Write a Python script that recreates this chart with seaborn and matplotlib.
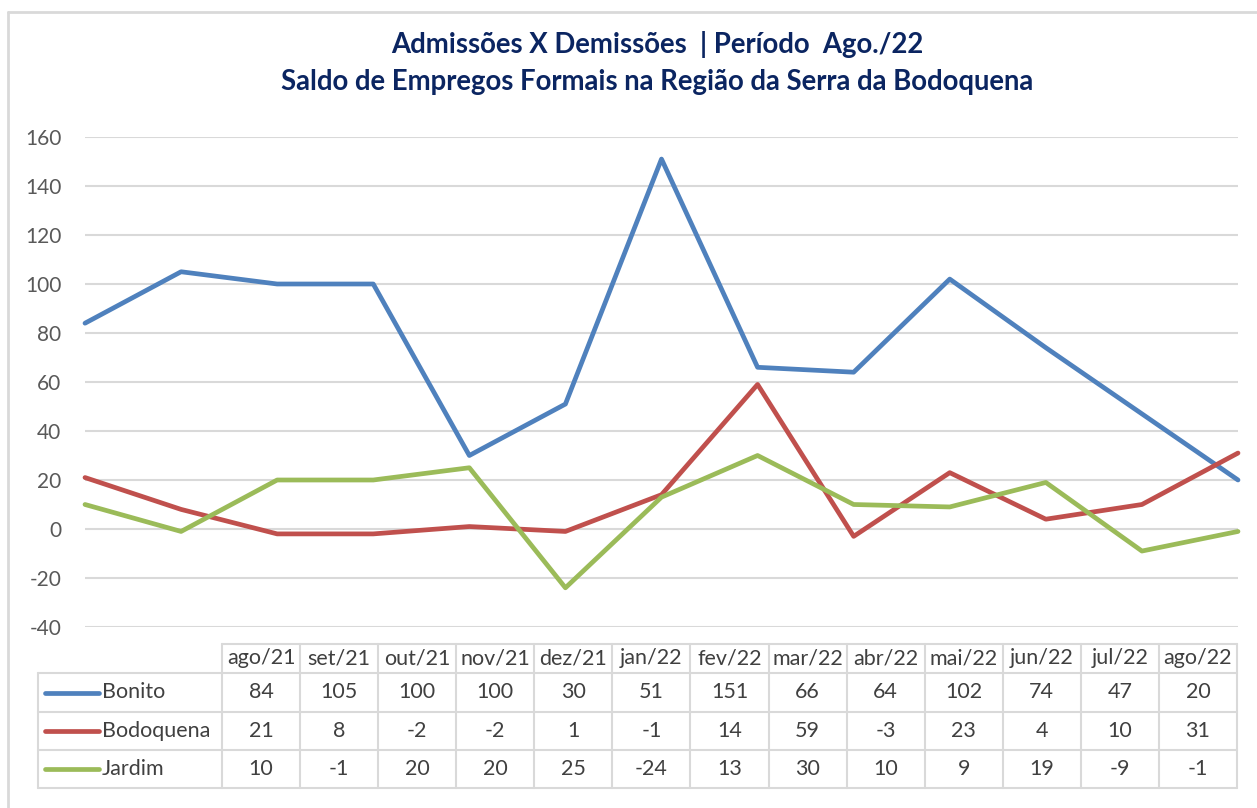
import numpy as np
import pandas as pd
import seaborn as sns
import matplotlib.pyplot as plt
from matplotlib.lines import Line2D

meses = ['ago/21', 'set/21', 'out/21', 'nov/21', 'dez/21', 'jan/22', 'fev/22',
         'mar/22', 'abr/22', 'mai/22', 'jun/22', 'jul/22', 'ago/22']
bonito = [84, 105, 100, 100, 30, 51, 151, 66, 64, 102, 74, 47, 20]
bodoquena = [21, 8, -2, -2, 1, -1, 14, 59, -3, 23, 4, 10, 31]
jardim = [10, -1, 20, 20, 25, -24, 13, 30, 10, 9, 19, -9, -1]
series = ['Bonito', 'Bodoquena', 'Jardim']
cores = ['#4F81BD', '#C0504D', '#9BBB59']
valores = [bonito, bodoquena, jardim]

df = pd.DataFrame({
    'pos': list(range(len(meses))) * 3,
    'valor': bonito + bodoquena + jardim,
    'serie': np.repeat(series, len(meses)),
})

sns.set_theme(style='white')
plt.rcParams['font.family'] = ['Lato', 'DejaVu Sans']
plt.rcParams['axes.unicode_minus'] = False

W, H = 1257, 808
fig = plt.figure(figsize=(W / 100, H / 100), dpi=100)


def fx(x):
    return x / W


def fy(y):
    return 1 - y / H


# plot area
ax = fig.add_axes([fx(85), fy(627), (1238 - 85) / W, (627 - 137) / H])
sns.lineplot(data=df, x='pos', y='valor', hue='serie', palette=cores,
             linewidth=3.4, ax=ax, legend=False, sort=False)
for ln in ax.lines:
    ln.set_clip_on(False)
    ln.set_solid_capstyle('round')
    ln.set_solid_joinstyle('round')
ax.set_xlim(0, len(meses) - 1)
ax.set_ylim(-40, 160)
ax.set_yticks(range(-40, 161, 20))
ax.set_xticks([])
ax.grid(axis='y', color='#D9D9D9', lw=1.5)
ax.set_axisbelow(True)
sns.despine(ax=ax, left=True, bottom=True)
ax.tick_params(axis='y', length=0, pad=17, labelsize=15, labelcolor='#595959')
ax.set_xlabel('')
ax.set_ylabel('')

# title
titulo_cor = '#0B2561'
fig.text(fx(657), fy(45), 'Admissões X Demissões  | Período  Ago./22', ha='center', va='center',
         fontsize=19.8, fontweight='bold', color=titulo_cor)
fig.text(fx(657), fy(82), 'Saldo de Empregos Formais na Região da Serra da Bodoquena', ha='center', va='center',
         fontsize=19.8, fontweight='bold', color=titulo_cor)

# outer border
grid_c = '#D9D9D9'
fig.add_artist(Line2D([fx(8), fx(1257)], [fy(12), fy(12)], color=grid_c, lw=2, transform=fig.transFigure))
fig.add_artist(Line2D([fx(8), fx(8)], [fy(12), fy(808)], color=grid_c, lw=2, transform=fig.transFigure))

# data table
t_left, c_left, t_right = 38, 222, 1237
col_w = (t_right - c_left) / len(meses)
rows_y = [644, 673, 712, 750, 788]
tc = '#404040'
fs = 15.5


def hline(x0, x1, y):
    fig.add_artist(Line2D([fx(x0), fx(x1)], [fy(y), fy(y)], color=grid_c, lw=1.5, transform=fig.transFigure))


def vline(x, y0, y1):
    fig.add_artist(Line2D([fx(x), fx(x)], [fy(y0), fy(y1)], color=grid_c, lw=1.5, transform=fig.transFigure))


hline(c_left, t_right, rows_y[0])
for y in rows_y[1:]:
    hline(t_left, t_right, y)
vline(t_left, rows_y[1], rows_y[-1])
for i in range(len(meses) + 1):
    vline(c_left + i * col_w, rows_y[0], rows_y[-1])

for i, m in enumerate(meses):
    cx = c_left + (i + 0.5) * col_w
    fig.text(fx(cx), fy((rows_y[0] + rows_y[1]) / 2), m, ha='center', va='center', fontsize=fs, color=tc)

for r, (nome, cor, vals) in enumerate(zip(series, cores, valores)):
    cy = (rows_y[r + 1] + rows_y[r + 2]) / 2
    fig.add_artist(Line2D([fx(45), fx(99)], [fy(cy), fy(cy)], color=cor, lw=3.4,
                          solid_capstyle='round', transform=fig.transFigure))
    fig.text(fx(102), fy(cy), nome, ha='left', va='center', fontsize=fs, color=tc)
    for i, v in enumerate(vals):
        cx = c_left + (i + 0.5) * col_w
        fig.text(fx(cx), fy(cy), str(v), ha='center', va='center', fontsize=fs, color=tc)

fig.savefig('out.png', dpi=100)
